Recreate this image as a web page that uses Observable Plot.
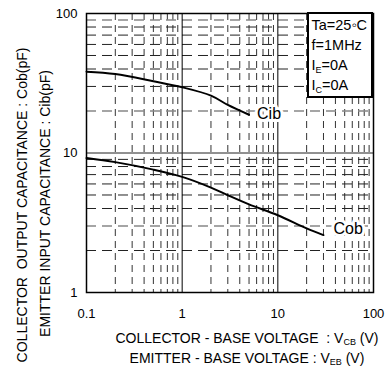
<!DOCTYPE html>
<html>
<head>
<meta charset="utf-8">
<script src="https://cdn.jsdelivr.net/npm/d3@7"></script>
<script src="https://cdn.jsdelivr.net/npm/@observablehq/plot@0.6"></script>
<style>
  html, body { margin: 0; padding: 0; background: #fff; }
  svg { font-family: "Liberation Sans", Arial, sans-serif; }
</style>
</head>
<body>
<div id="chart"></div>
<script>
// ---- data ----
const cibV = [0.1, 0.2, 0.5, 1, 2, 3, 5];
const cibC = [38.3, 36.8, 32.7, 29.6, 25.8, 22.1, 18.8];
const cobV = [0.1, 0.2, 0.5, 1, 2, 3, 5, 10, 20, 30];
const cobC = [9.2, 8.6, 7.6, 6.74, 5.65, 4.98, 4.28, 3.58, 2.88, 2.58];
const xTicks = [0.1, 1, 10, 100];
const yTicks = [1, 10, 100];
const xMajorGrid = [1, 10];
const yMajorGrid = [10];
const xMinorGrid = [0.2, 0.3, 0.4, 0.5, 0.6, 0.7, 0.8, 0.9, 2, 3, 4, 5, 6, 7, 8, 9, 20, 30, 40, 50, 60, 70, 80, 90];
const yMinorGrid = [2, 3, 4, 5, 6, 7, 8, 9, 20, 30, 40, 50, 60, 70, 80, 90];
const yMinorLight = [3, 20, 90];
const seriesLabels = ["Cib", "Cob"];
const legendLines = [["Ta=25◦C", ""], ["f=1MHz", ""], ["I", "E", "=0A"], ["I", "C", "=0A"]];
const yTitles = ["COLLECTOR  OUTPUT CAPACITANCE : Cob(pF)", "EMITTER INPUT CAPACITANCE : Cib(pF)"];
const xTitles = [["COLLECTOR - BASE VOLTAGE  : V", "CB", " (V)"], ["EMITTER - BASE VOLTAGE : V", "EB", " (V)"]];

const cib = cibV.map((v, i) => ({v, c: cibC[i], s: "Cib"}));
const cob = cobV.map((v, i) => ({v, c: cobC[i], s: "Cob"}));
const ends = [cib[cib.length - 1], cob[cob.length - 1]];

const chart = Plot.plot({
  width: 385,
  height: 371,
  marginLeft: 86,
  marginRight: 12,
  marginTop: 13,
  marginBottom: 79,
  style: {fontFamily: "Liberation Sans, Arial, sans-serif", fontSize: "13px", color: "#000", background: "#fff"},
  x: {type: "log", domain: [0.1, 100], ticks: xTicks, tickFormat: d => String(d), tickSize: 0, tickPadding: 16, label: null},
  y: {type: "log", domain: [1, 100], ticks: yTicks, tickFormat: d => String(d), tickSize: 0, tickPadding: 9, label: null},
  marks: [
    Plot.ruleX(xMinorGrid, {stroke: "#333", strokeWidth: 1, strokeDasharray: "7,5"}),
    Plot.ruleY(yMinorGrid.filter(d => !yMinorLight.includes(d)), {stroke: "#222", strokeWidth: 1, strokeDasharray: "10,6"}),
    Plot.ruleY(yMinorLight, {stroke: "#888", strokeWidth: 1.5, strokeDasharray: "10,6"}),
    Plot.ruleX(xMajorGrid, {stroke: "#000", strokeWidth: 1}),
    Plot.ruleY(yMajorGrid, {stroke: "#222", strokeWidth: 1}),
    Plot.line(cib, {x: "v", y: "c", stroke: "#000", strokeWidth: 2, curve: "catmull-rom"}),
    Plot.line(cob, {x: "v", y: "c", stroke: "#000", strokeWidth: 2, curve: "catmull-rom"}),
    Plot.text([ends[0]], {x: "v", y: "c", text: () => seriesLabels[0], textAnchor: "start", dx: 8, dy: -1, fontSize: 16, fill: "#000", stroke: "#fff", strokeWidth: 6}),
    Plot.text([ends[1]], {x: "v", y: "c", text: () => seriesLabels[1], textAnchor: "start", dx: 10, dy: -6, fontSize: 16, fill: "#000", stroke: "#fff", strokeWidth: 6}),
    Plot.frame({stroke: "#000", strokeWidth: 1.5})
  ]
});

document.getElementById("chart").appendChild(chart);

const svg = d3.select(chart);
const font = "Liberation Sans, Arial, sans-serif";

// legend box (top-right, inside plot)
const box = svg.append("g").attr("text-anchor", "start");
box.append("rect").attr("x", 308).attr("y", 13).attr("width", 64).attr("height", 84)
  .attr("fill", "#fff").attr("stroke", "#000").attr("stroke-width", 2);
legendLines.forEach((ln, i) => {
  const t = box.append("text").attr("x", 311.5).attr("y", 30 + i * 20).attr("text-anchor", "start")
    .attr("font-family", font).attr("font-size", 14.5).attr("fill", "#000").attr("stroke", "none");
  if (ln.length === 2) {
    t.text(ln[0]);
  } else {
    t.append("tspan").text(ln[0]);
    t.append("tspan").attr("font-size", 9).attr("dy", 3).text(ln[1]);
    t.append("tspan").attr("dy", -3).text(ln[2]);
  }
});

// y titles (rotated)
[21.7, 45].forEach((x, i) => {
  svg.append("text").attr("transform", `translate(${x},${i === 0 ? 205 : 203.5}) rotate(-90)`)
    .attr("text-anchor", "middle").attr("dominant-baseline", "central")
    .attr("font-family", font).attr("font-size", 14).attr("fill", "#000")
    .text(yTitles[i]);
});

// x titles
[343, 363].forEach((y, i) => {
  const t = svg.append("text").attr("x", 247).attr("y", y).attr("text-anchor", "middle")
    .attr("font-family", font).attr("font-size", 14).attr("fill", "#000");
  t.append("tspan").text(xTitles[i][0]);
  t.append("tspan").attr("font-size", 9).attr("dy", 2).text(xTitles[i][1]);
  t.append("tspan").attr("dy", -2).text(xTitles[i][2]);
});
</script>
</body>
</html>
